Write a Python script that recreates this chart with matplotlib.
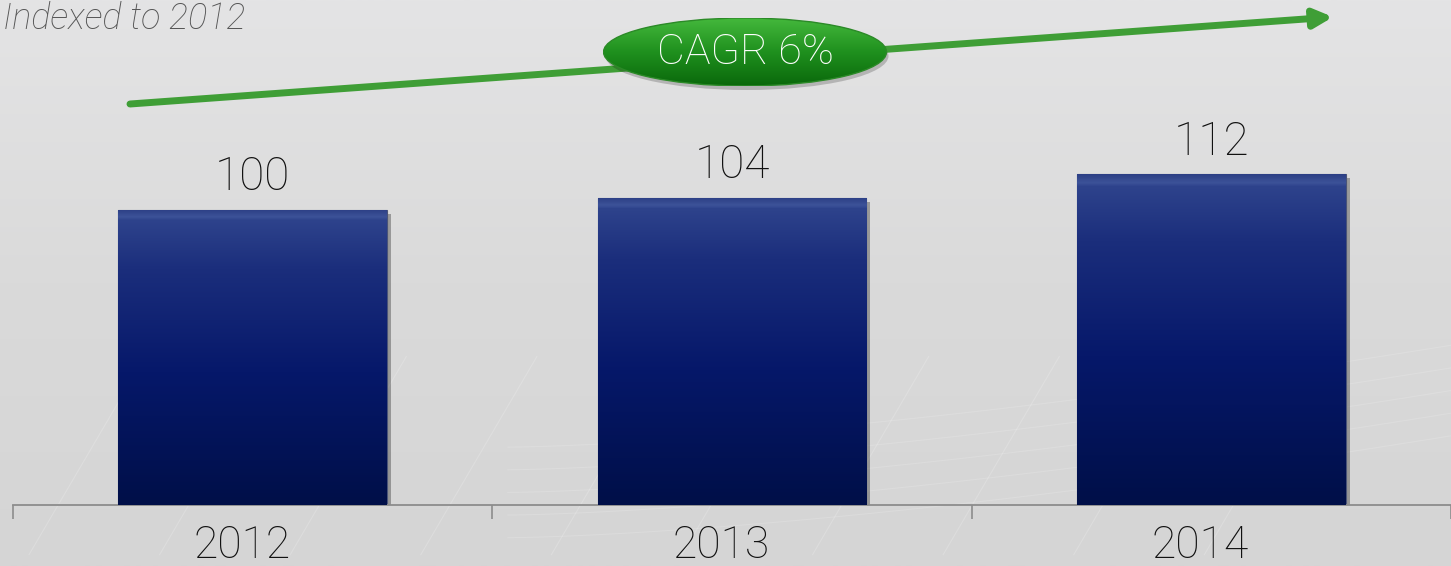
import numpy as np
import matplotlib.pyplot as plt
import matplotlib.patheffects as pe
import matplotlib.transforms as mtransforms
from matplotlib.patches import Ellipse, FancyArrowPatch, ArrowStyle
from matplotlib.colors import LinearSegmentedColormap

years = ["2012", "2013", "2014"]
index_values = [100, 104, 112]
subtitle = "Indexed to 2012"

# compound annual growth between first and last year
cagr = (index_values[-1] / index_values[0]) ** (1 / (len(years) - 1)) - 1

plt.rcParams['font.family'] = ['Roboto', 'DejaVu Sans']
plt.rcParams['font.weight'] = 'light'

W, H = 1451, 566
fig = plt.figure(figsize=(W / 100, H / 100), dpi=100)

# soft grey backdrop with a few faint sweeping lines
bg = fig.add_axes([0, 0, 1, 1], zorder=-10)
grad = np.linspace(0, 1, 256).reshape(-1, 1)
bg_cmap = LinearSegmentedColormap.from_list("bg", ["#e4e4e5", "#dadada", "#d5d5d5"])
bg.imshow(grad, cmap=bg_cmap, aspect="auto", extent=[0, 1, 0, 1])
t = np.linspace(0, 1, 200)
for k in range(10):
    bg.plot(0.02 + 0.09 * k + 0.08 * t, 0.02 + 0.35 * t, color="white", lw=0.8, alpha=0.18)
for k in range(5):
    bg.plot(0.35 + 0.65 * t, 0.05 + 0.04 * k + 0.18 * t ** 1.5, color="white", lw=0.8, alpha=0.15)
bg.set_xlim(0, 1)
bg.set_ylim(0, 1)
bg.axis("off")

ax = fig.add_axes([13 / W, 61 / H, 1 - 13 / W, 1 - 61 / H])
ax.set_facecolor("none")
x = np.arange(len(years))

bars = ax.bar(x, index_values, width=0.56, color="#0a1a5e", edgecolor="#4a5478",
              linewidth=0.8, zorder=2,
              path_effects=[pe.SimplePatchShadow(offset=(3, -3), shadow_rgbFace="black", alpha=0.3),
                            pe.Normal()])

bar_cmap = LinearSegmentedColormap.from_list(
    "bar", [(0, "#000f48"), (0.45, "#06186a"), (0.8, "#1b2e7c"), (0.965, "#2e438c"),
            (0.975, "#3d5399"), (1, "#2c3f85")])
for b in bars:
    im = ax.imshow(grad, cmap=bar_cmap, aspect="auto", origin="lower",
                   extent=[b.get_x(), b.get_x() + b.get_width(), 0, b.get_height()], zorder=3)
    im.set_clip_path(b)

for b, v in zip(bars, index_values):
    ax.annotate(f"{v}", (b.get_x() + b.get_width() / 2, v), xytext=(0, 14),
                textcoords="offset points", ha="center", va="baseline",
                fontsize=33, color="#111111", zorder=4)

ax.set_xlim(-0.5, 2.484)
ax.set_ylim(0, 171)

for side in ["top", "right", "left"]:
    ax.spines[side].set_visible(False)
ax.spines["bottom"].set_color("#8c8c8c")
ax.spines["bottom"].set_linewidth(1.3)
ax.set_yticks([])

ax.set_xticks(x)
ax.set_xticklabels(years, fontsize=32, color="#111111")
ax.set_xticks(np.arange(len(years) + 1) - 0.5, minor=True)
ax.tick_params(axis="x", which="major", length=0, pad=14)
ax.tick_params(axis="x", which="minor", length=10, width=1.2, color="#8c8c8c", direction="out")
shift = mtransforms.ScaledTranslation(-11 / 100, 0, fig.dpi_scale_trans)
for lbl in ax.get_xticklabels():
    lbl.set_transform(lbl.get_transform() + shift)

# growth arrow
arrow = FancyArrowPatch((130 / W, 1 - 104 / H), (1333 / W, 1 - 17 / H),
                        transform=fig.transFigure,
                        arrowstyle=ArrowStyle("-|>", head_length=1.1, head_width=0.55),
                        mutation_scale=10, color="#3f9e36", lw=5,
                        shrinkA=0, shrinkB=0, zorder=4)
fig.add_artist(arrow)

# CAGR badge
ex, ey, ew, eh = 745 / W, 1 - 52 / H, 283 / W, 68 / H
fig.add_artist(Ellipse((ex + 2 / W, ey - 4 / H), ew, eh, transform=fig.transFigure,
                       facecolor="black", alpha=0.2, lw=0, zorder=5))
eax = fig.add_axes([ex - ew / 2, ey - eh / 2, ew, eh], zorder=6)
eax.axis("off")
green_cmap = LinearSegmentedColormap.from_list("grn", ["#44b83c", "#1f901e", "#0a680b"])
ell = Ellipse((0.5, 0.5), 1, 1, transform=eax.transAxes)
gim = eax.imshow(grad, cmap=green_cmap, aspect="auto", extent=[0, 1, 0, 1])
gim.set_clip_path(ell)
eax.add_patch(Ellipse((0.5, 0.5), 1, 1, transform=eax.transAxes, facecolor="none",
                      edgecolor="#2b8a27", lw=1))
eax.set_xlim(0, 1)
eax.set_ylim(0, 1)
eax.text(0.5, 0.5, f"CAGR {cagr:.0%}", ha="center", va="center", fontsize=31,
         color="white", transform=eax.transAxes)

fig.text(3 / W, 1 - 29 / H, subtitle, ha="left", va="baseline", style="italic",
         fontsize=26, color="#555555")

fig.savefig("out.png", dpi=100)
